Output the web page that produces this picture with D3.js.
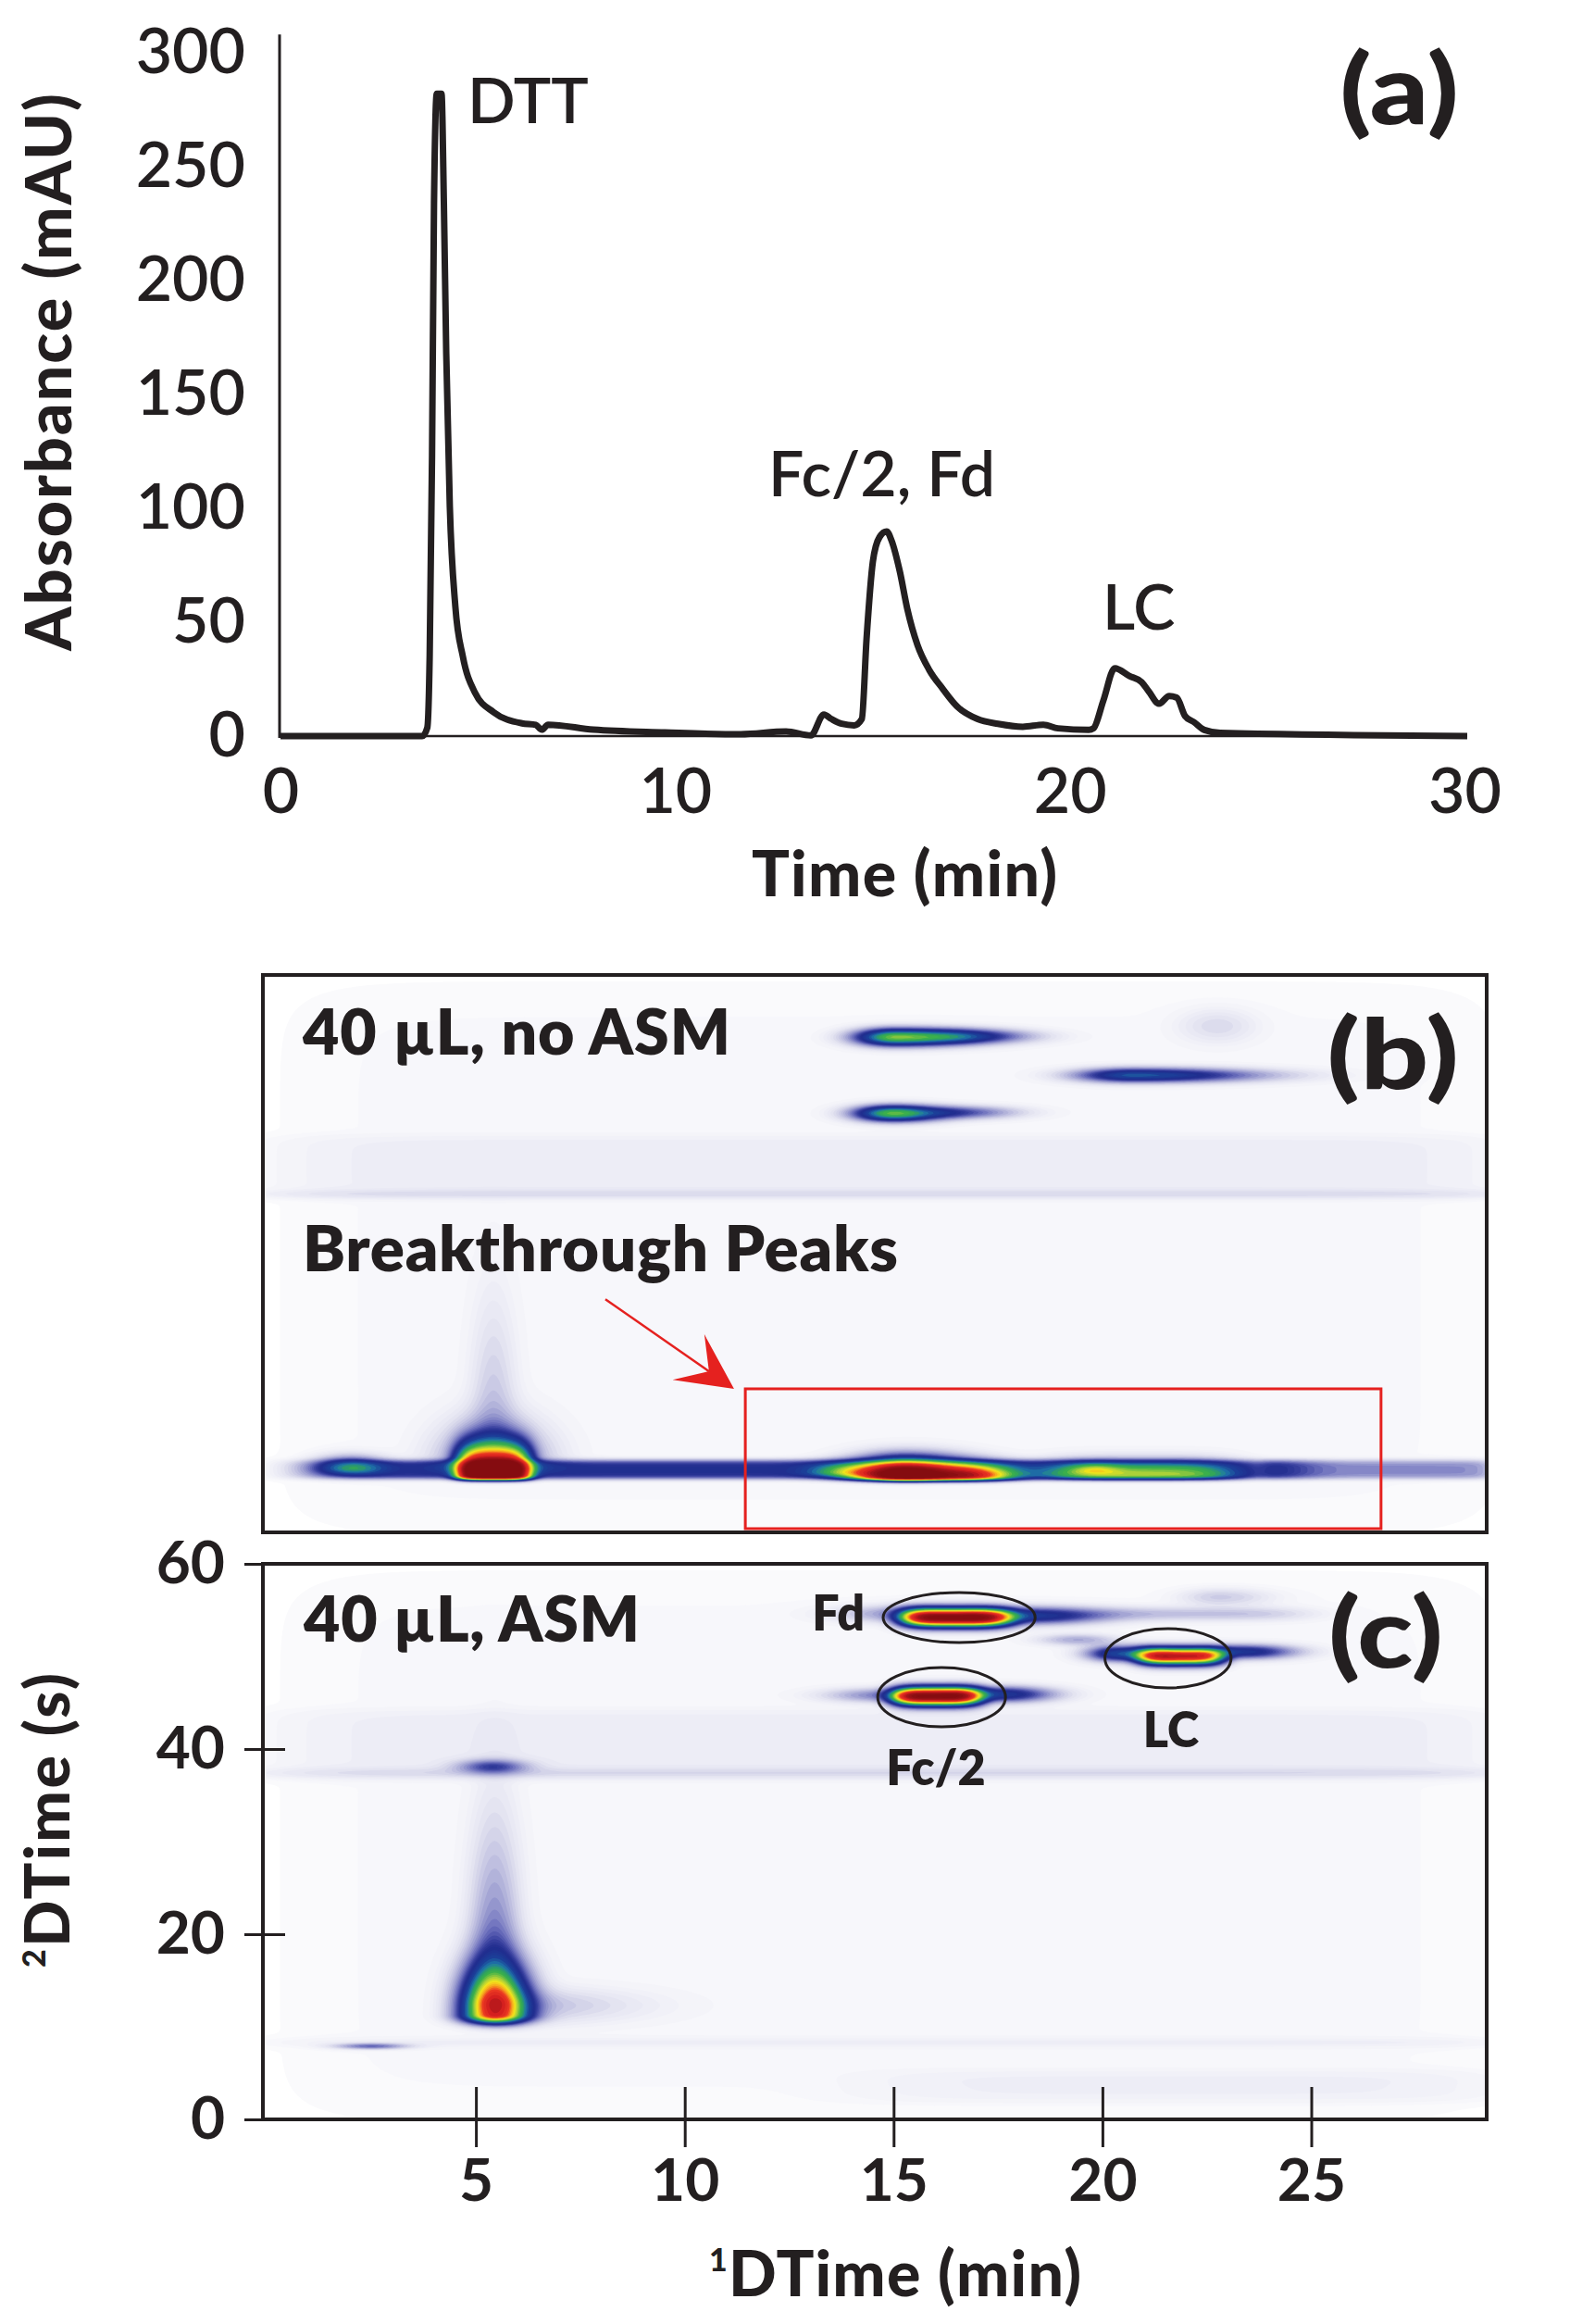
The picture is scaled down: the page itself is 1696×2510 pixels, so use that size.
<!DOCTYPE html>
<html><head><meta charset="utf-8">
<script src="https://cdn.jsdelivr.net/npm/d3@7"></script>
<style>
body{margin:0;background:#fff}
svg{display:block}
text{font-family:Lato,"Open Sans",sans-serif;fill:#231f20}
</style>
</head><body>
<svg id="chart" width="1696" height="2510"></svg>
<script>
// ================= DATA =================
// Panel (a): 1D chromatogram
const traceTime = [0, 3.59, 3.72, 3.78, 3.84, 3.89, 3.96, 4.08, 4.14, 4.20, 4.29, 4.43, 4.62, 4.93, 5.40, 6.12, 6.47, 6.62, 6.78, 7.93, 9.74, 11.66, 12.81, 13.44, 13.77, 13.96, 14.22, 14.54, 14.73, 14.85, 15.01, 15.18, 15.36, 15.48, 15.69, 15.88, 16.14, 16.44, 16.77, 17.15, 17.66, 18.18, 18.81, 19.33, 19.70, 20.48, 20.60, 20.85, 21.14, 21.51, 21.82, 22.00, 22.26, 22.52, 22.71, 22.92, 23.15, 23.41, 23.81, 30.07];
const traceAbs  = [0, 0, 3.7, 35, 123, 234, 282, 282, 234, 168, 101, 57, 35, 19, 10.5, 5.6, 4.9, 2.8, 5, 2.8, 1.6, 0.8, 2, 0.3, 9.5, 7.5, 5.4, 4.7, 7.5, 42.7, 76.6, 87.4, 89.8, 86, 72.5, 56, 40, 29, 21, 12.9, 7.5, 5.4, 4.1, 5, 3.4, 2.7, 3.4, 15.6, 29.8, 26.4, 23.7, 19.6, 14.2, 17.6, 16.9, 8.8, 6.1, 2.7, 1.4, 0];
const absTicks  = [0, 50, 100, 150, 200, 250, 300];
const timeTicks = [0, 10, 20, 30];
const peakLabelText = ["DTT", "Fc/2, Fd", "LC"];
const peakLabelTime = [4.74, 12.36, 20.83];
const peakLabelAbs  = [269, 105.3, 46.7];

// Panels (b),(c): 2D plot axes
const dim1Ticks = [5, 10, 15, 20, 25];
const dim2Ticks = [0, 20, 40, 60];

// 2D peaks: [1D time (min), 2D time (s), intensity, sigma left, sigma right, sigma down, sigma up, t-exponent, s-exponent]
const peaksB = [
  [14.9, 29.5, 0.008, 14.2, 14.2, 29, 29, 12, 12],
  [14.9, 39.4, 0.013, 14.2, 14.2, 3.1, 3.1, 12, 8],
  [14.9, 36.4, 0.026, 14.2, 14.2, 0.35, 0.35, 12, 2],
  [12.8, 6.7, 0.215, 11.2, 11.2, 0.8, 0.9, 14, 4],
  [26.6, 6.7, 0.11, 2.6, 2.6, 0.8, 0.9, 14, 4],
  [2.0, 6.9, 0.27, 0.55, 0.55, 0.5, 0.8, 2, 2],
  [5.42, 6.1, 1.18, 0.72, 0.72, 0.3, 2.0, 4, 2],
  [5.42, 7.0, 0.2, 0.8, 0.8, 0.5, 3.0, 2, 2],
  [5.42, 10, 0.06, 0.35, 0.35, 1, 9, 2, 2],
  [15.3, 6.0, 1.15, 0.8, 0.95, 0.3, 1.2, 2, 2],
  [17.0, 6.0, 0.5, 0.6, 0.7, 0.3, 0.9, 2, 2],
  [13.8, 6.5, 0.22, 0.6, 0.6, 0.4, 0.7, 2, 2],
  [20.9, 6.1, 0.36, 1.9, 1.9, 0.3, 1.0, 4, 2],
  [19.8, 6.7, 0.14, 0.4, 0.4, 0.3, 0.5, 2, 2],
  [15.05, 53.3, 0.52, 0.62, 1.2, 0.6, 0.6, 2, 2],
  [16.8, 53.4, 0.17, 0.7, 1.0, 0.5, 0.5, 2, 2],
  [15.0, 45.1, 0.5, 0.6, 0.75, 0.55, 0.55, 2, 2],
  [16.6, 45.2, 0.15, 0.6, 0.9, 0.45, 0.45, 2, 2],
  [20.75, 49.2, 0.32, 0.9, 1.9, 0.5, 0.5, 2, 2],
  [22.75, 54.5, 0.035, 0.6, 0.6, 1.2, 1.2, 2, 2]
];
const peaksC = [
  [14.9, 29.5, 0.008, 14.2, 14.2, 29, 29, 12, 12],
  [14.9, 40.5, 0.013, 14.2, 14.2, 3.5, 3.5, 12, 8],
  [14.9, 37.4, 0.026, 14.2, 14.2, 0.4, 0.4, 12, 2],
  [14.9, 8.3, 0.012, 14.2, 14.2, 0.4, 0.4, 12, 2],
  [22.0, 3.6, 0.012, 7, 7, 1.5, 1.5, 6, 4],
  [5.45, 11.3, 0.82, 0.5, 0.52, 0.62, 3.4, 2, 2],
  [5.45, 13, 0.15, 0.38, 0.38, 1, 11, 2, 2],
  [6.0, 12.3, 0.06, 0.5, 1.8, 1.2, 1.2, 2, 2],
  [5.4, 38.1, 0.16, 0.55, 0.55, 0.5, 0.5, 2, 2],
  [2.5, 7.9, 0.14, 0.55, 0.55, 0.2, 0.2, 2, 2],
  [16.4, 54.2, 1.12, 1.0, 1.15, 0.65, 0.65, 4, 2],
  [18.3, 54.4, 0.26, 0.8, 1.1, 0.6, 0.6, 2, 2],
  [15.2, 54.6, 0.1, 1.0, 0.5, 0.6, 0.6, 2, 2],
  [16.0, 45.7, 1.1, 0.85, 0.9, 0.65, 0.65, 4, 2],
  [17.6, 45.9, 0.26, 0.7, 0.8, 0.55, 0.55, 2, 2],
  [14.8, 45.8, 0.12, 0.9, 0.5, 0.5, 0.5, 2, 2],
  [21.87, 50.0, 0.86, 0.85, 0.85, 0.6, 0.6, 4, 2],
  [20.4, 50.3, 0.3, 0.5, 0.8, 0.55, 0.55, 2, 2],
  [23.4, 50.5, 0.25, 0.7, 0.8, 0.5, 0.5, 2, 2],
  [22.8, 56.4, 0.05, 0.6, 0.8, 0.6, 0.6, 2, 2],
  [22.0, 54.6, 0.06, 2.4, 2.4, 0.5, 0.5, 4, 2],
  [19.4, 51.8, 0.08, 0.6, 0.6, 0.4, 0.4, 2, 2]
];
// circled peaks in (c)
const ellipseTime = [16.57, 16.15, 21.57];
const ellipseSec  = [54.2, 45.6, 49.8];
const ellipseRT   = [1.82, 1.53, 1.51];
const ellipseRS   = [2.7, 3.2, 3.2];
const cLabelText = ["Fd", "Fc/2", "LC"];
const cLabelTime = [14.31, 16.01, 21.64];
const cLabelSec  = [52.8, 36.1, 40.2];
const cLabelAnchor = ["end", "middle", "middle"];
// breakthrough box and arrow in (b)
const boxTime = [11.45, 26.67];
const boxSec  = [0.4, 15.45];
const arrowTime = [8.1, 11.18];
const arrowSec  = [25.1, 15.45];

// colour map
const heatStops  = [0, 0.01, 0.03, 0.06, 0.1, 0.14, 0.18, 0.22, 0.3, 0.37, 0.43, 0.48, 0.56, 0.63, 0.7, 0.77, 0.88, 0.97, 1.1];
const heatColors = ["#ffffff","#f5f5fa","#e6e6f2","#c8c8e4","#9c9dd0","#6c6fbd","#3a42a0","#202c8e","#1c3f99","#1f78a8","#2fa35c","#3cb04a","#a6cf3a","#f4e51b","#f7a21e","#ec3a22","#d41f1f","#a3141a","#850c10"];
const heatLevels = [0.004,0.007,0.01,0.014,0.018,0.023,0.029,0.036,0.044,0.053,0.063,0.074,0.086,0.1,0.113,0.126,0.14,0.153,0.166,0.18,0.193,0.206,0.22,0.24,0.26,0.28,0.31,0.34,0.37,0.4,0.43,0.46,0.49,0.52,0.55,0.58,0.61,0.64,0.67,0.7,0.73,0.76,0.8,0.85,0.9,0.95,1.0,1.05,1.1];

// ================= DRAW =================
const INK = "#231f20", RED = "#e5211f";
const svg = d3.select("#chart");

function panelLabel(x, y, txt, sx) {
  svg.append("text").attr("transform", `translate(${x},${y}) scale(${sx},1)`).attr("text-anchor", "end")
    .attr("font-size", 104).attr("font-weight", 900).text(txt);
}

// ---------- Panel (a) ----------
const xA = d3.scaleLinear().domain([0, 30]).range([303, 1582]);
const yA = d3.scaleLinear().domain([0, 300]).range([795, 57]);
const gA = svg.append("g");

gA.append("line").attr("x1", xA(0) - 1).attr("x2", xA(0) - 1).attr("y1", yA(0) + 2).attr("y2", yA(308))
  .attr("stroke", INK).attr("stroke-width", 3);
gA.append("line").attr("x1", xA(0) - 1).attr("x2", xA(d3.max(traceTime))).attr("y1", yA(0)).attr("y2", yA(0))
  .attr("stroke", INK).attr("stroke-width", 2.5);

gA.append("g").attr("transform", `translate(${xA(0) - 1},0)`)
  .call(d3.axisLeft(yA).tickValues(absTicks).tickSize(0).tickPadding(37))
  .call(g => g.select(".domain").remove())
  .attr("font-family", "Lato, sans-serif").attr("font-size", 68).attr("font-weight", 600).attr("color", INK);
gA.append("g").attr("transform", `translate(0,${yA(0)})`)
  .call(d3.axisBottom(xA).tickValues(timeTicks).tickSize(0).tickPadding(35))
  .call(g => g.select(".domain").remove())
  .attr("font-family", "Lato, sans-serif").attr("font-size", 68).attr("font-weight", 600).attr("color", INK);

gA.append("path").datum(d3.zip(traceTime, traceAbs))
  .attr("d", d3.line().x(d => xA(d[0])).y(d => yA(d[1])).curve(d3.curveMonotoneX))
  .attr("fill", "none").attr("stroke", INK).attr("stroke-width", 7).attr("stroke-linejoin", "round");

gA.selectAll("text.pk").data(peakLabelText).join("text").attr("class", "pk")
  .attr("x", (d, i) => xA(peakLabelTime[i])).attr("y", (d, i) => yA(peakLabelAbs[i]))
  .attr("font-size", 68).attr("font-weight", 600).text(d => d);

gA.append("text").attr("transform", "translate(77,402) rotate(-90)").attr("text-anchor", "middle")
  .attr("font-size", 68).attr("font-weight", 900).attr("textLength", 602).attr("lengthAdjust", "spacing").text("Absorbance (mAU)");
gA.append("text").attr("x", 977).attr("y", 968).attr("text-anchor", "middle")
  .attr("font-size", 68).attr("font-weight", 900).attr("textLength", 330).attr("lengthAdjust", "spacing").text("Time (min)");
panelLabel(1576, 134, "(a)", 1.2);

// ---------- Panels (b) and (c) ----------
const xC = d3.scaleLinear().domain([-0.1, 29.2]).range([284, 1606]);
const yC = d3.scaleLinear().domain([0, 60]).range([2289, 1689]);
const yB = d3.scaleLinear().domain([0, 60]).range([1655, 1053]);
const heatColor = d3.scaleLinear().domain(heatStops).range(heatColors).clamp(true);

const T0 = -0.1, T1 = 29.2, S0 = 0, S1 = 60, NX = 620, NY = 380;
const DT = (T1 - T0) / NX, DS = (S1 - S0) / NY;

function heatGrid(comps) {
  const vals = new Float64Array(NX * NY);
  for (const c of comps) {
    const [tc, sc, amp, tl, tr, sd, su, p, q] = c;
    for (let j = 0; j < NY; j++) {
      const s = S0 + (j + 0.5) * DS;
      const az = Math.abs((s - sc) / (s < sc ? sd : su));
      if (az > 9) continue;
      const fs = Math.exp(-0.5 * Math.pow(az, q));
      if (fs < 1e-6) continue;
      for (let i = 0; i < NX; i++) {
        const t = T0 + (i + 0.5) * DT;
        const zt = Math.abs((t - tc) / (t < tc ? tl : tr));
        if (zt > 9) continue;
        vals[j * NX + i] += amp * fs * Math.exp(-0.5 * Math.pow(zt, p));
      }
    }
  }
  return vals;
}

function drawHeat(comps, yScale, clipId) {
  const vals = heatGrid(comps);
  const polys = d3.contours().size([NX, NY]).thresholds(heatLevels)(vals);
  const proj = d3.geoTransform({
    point: function (x, y) { this.stream.point(xC(T0 + x * DT), yScale(S0 + y * DS)); }
  });
  const path = d3.geoPath(proj);
  svg.append("clipPath").attr("id", clipId).append("rect")
    .attr("x", xC(T0)).attr("y", yScale(S1)).attr("width", xC(T1) - xC(T0)).attr("height", yScale(S0) - yScale(S1));
  const g = svg.append("g").attr("clip-path", `url(#${clipId})`);
  g.selectAll("path").data(polys).join("path")
    .attr("d", path)
    .attr("fill", (d, i) => heatColor((heatLevels[i] + (heatLevels[i + 1] ?? heatLevels[i] + 0.05)) / 2))
    .attr("stroke", "none");
}

drawHeat(peaksB, yB, "clipB");
drawHeat(peaksC, yC, "clipC");

// frames
[yB, yC].forEach(ys => {
  svg.append("rect").attr("x", xC(T0)).attr("y", ys(S1)).attr("width", xC(T1) - xC(T0)).attr("height", ys(S0) - ys(S1))
    .attr("fill", "none").attr("stroke", INK).attr("stroke-width", 4);
});

// (b) annotations
svg.append("text").attr("x", 327).attr("y", 1139).attr("font-size", 68).attr("font-weight", 800)
  .attr("textLength", 462).attr("lengthAdjust", "spacing").text("40 µL, no ASM");
svg.append("text").attr("x", 327).attr("y", 1373).attr("font-size", 69).attr("font-weight", 800)
  .attr("textLength", 643).attr("lengthAdjust", "spacing").text("Breakthrough Peaks");
panelLabel(1576, 1176, "(b)", 1.25);

svg.append("rect").attr("x", xC(boxTime[0])).attr("y", yB(boxSec[1]))
  .attr("width", xC(boxTime[1]) - xC(boxTime[0])).attr("height", yB(boxSec[0]) - yB(boxSec[1]))
  .attr("fill", "none").attr("stroke", RED).attr("stroke-width", 3);
(function () {
  const x0 = xC(arrowTime[0]), y0 = yB(arrowSec[0]), x1 = xC(arrowTime[1]), y1 = yB(arrowSec[1]);
  const len = Math.hypot(x1 - x0, y1 - y0), ux = (x1 - x0) / len, uy = (y1 - y0) / len, nx = -uy, ny = ux;
  const L = 60, W = 30, N = 33;
  svg.append("line").attr("x1", x0).attr("y1", y0).attr("x2", x1 - ux * N).attr("y2", y1 - uy * N)
    .attr("stroke", RED).attr("stroke-width", 2.5);
  const pts = [[x1, y1], [x1 - ux * L + nx * W, y1 - uy * L + ny * W], [x1 - ux * N, y1 - uy * N], [x1 - ux * L - nx * W, y1 - uy * L - ny * W]];
  svg.append("path").attr("d", "M" + pts.map(p => p.join(",")).join("L") + "Z").attr("fill", RED);
})();

// (c) annotations
svg.selectAll("ellipse.pk").data(ellipseTime).join("ellipse").attr("class", "pk")
  .attr("cx", (d, i) => xC(d)).attr("cy", (d, i) => yC(ellipseSec[i]))
  .attr("rx", (d, i) => xC(d + ellipseRT[i]) - xC(d)).attr("ry", (d, i) => yC(ellipseSec[i] - ellipseRS[i]) - yC(ellipseSec[i]))
  .attr("fill", "none").attr("stroke", INK).attr("stroke-width", 3);
svg.selectAll("text.cl").data(cLabelText).join("text").attr("class", "cl")
  .attr("x", (d, i) => xC(cLabelTime[i])).attr("y", (d, i) => yC(cLabelSec[i]))
  .attr("text-anchor", (d, i) => cLabelAnchor[i]).attr("font-size", 52).attr("font-weight", 800).text(d => d);
svg.append("text").attr("x", 328).attr("y", 1773).attr("font-size", 68).attr("font-weight", 800)
  .attr("textLength", 363).attr("lengthAdjust", "spacing").text("40 µL, ASM");
panelLabel(1559, 1801, "(c)", 1.2);

// (c) axes
svg.append("g").attr("transform", `translate(${xC(T0)},0)`)
  .call(d3.axisLeft(yC).tickValues(dim2Ticks).tickSize(20).tickPadding(21))
  .call(g => g.select(".domain").remove())
  .call(g => g.selectAll(".tick line").attr("x1", 24).attr("stroke-width", 3))
  .attr("font-family", "Lato, sans-serif").attr("font-size", 64).attr("font-weight", 700).attr("color", INK);
svg.append("g").attr("transform", `translate(0,${yC(0)})`)
  .call(d3.axisBottom(xC).tickValues(dim1Ticks).tickSize(30).tickPadding(13))
  .call(g => g.select(".domain").remove())
  .call(g => g.selectAll(".tick line").attr("y1", -35).attr("stroke-width", 3))
  .attr("font-family", "Lato, sans-serif").attr("font-size", 64).attr("font-weight", 700).attr("color", INK);

const t1 = svg.append("text").attr("x", 967).attr("y", 2480).attr("text-anchor", "middle").attr("font-size", 68).attr("font-weight", 900)
  .attr("textLength", 402).attr("lengthAdjust", "spacing");
t1.append("tspan").attr("font-size", 34).attr("dy", -27).text("1");
t1.append("tspan").attr("dy", 27).text("DTime (min)");
const t2 = svg.append("text").attr("transform", "translate(75,1966) rotate(-90)").attr("text-anchor", "middle").attr("font-size", 66).attr("font-weight", 900)
  .attr("textLength", 318).attr("lengthAdjust", "spacing");
t2.append("tspan").attr("font-size", 34).attr("dy", -26).text("2");
t2.append("tspan").attr("dy", 26).text("DTime (s)");
</script>
</body></html>
